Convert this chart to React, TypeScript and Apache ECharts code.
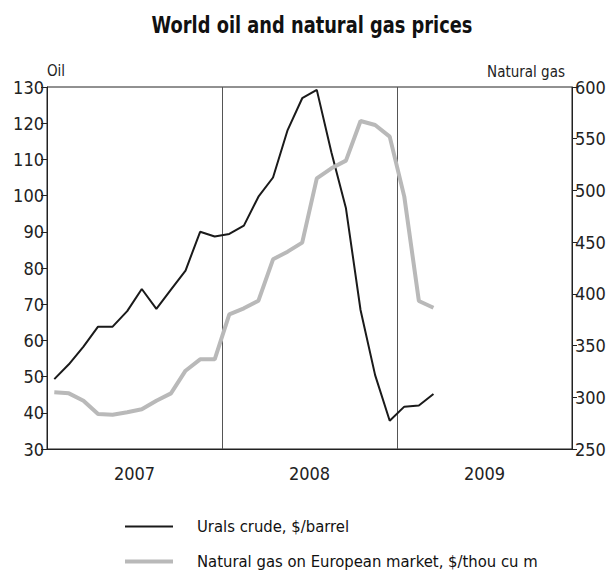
import React, { useEffect, useRef } from "react";
import * as echarts from "echarts";

const months: string[] = [];
for (const y of ["2007", "2008", "2009"]) {
  for (const m of ["01", "02", "03", "04", "05", "06", "07", "08", "09", "10", "11", "12"]) {
    months.push(`${y}-${m}`);
  }
}
const years = ["2007", "2008", "2009"];

const titleText = "World oil and natural gas prices";
const oilName = "Urals crude, $/barrel";
const gasName = "Natural gas on European market, $/thou cu m";

const oilPrices = [
  49.3, 53.4, 58.3, 63.8, 63.8, 68.1, 74.2, 68.7, 74.0, 79.3, 90.0, 88.7,
  89.4, 91.7, 99.7, 105.0, 118.1, 126.9, 129.2, 112.0, 96.5, 68.4, 50.4, 37.8,
  41.7, 42.0, 45.2,
];
const gasPrices = [
  304.8, 303.8, 296.7, 283.8, 283.2, 285.5, 288.4, 296.7, 303.8, 325.7, 336.7, 336.7,
  380.2, 386.0, 393.4, 433.4, 440.8, 449.5, 511.7, 521.4, 528.8, 567.1, 563.3, 552.0,
  494.0, 393.1, 386.6,
];

const FONT = "'Liberation Sans Narrow', 'DejaVu Sans Condensed', 'Liberation Sans', sans-serif";

export default function App() {
  const ref = useRef<HTMLDivElement>(null);
  useEffect(() => {
    if (!ref.current) return;
    const chart = echarts.init(ref.current, undefined, { renderer: "svg" });
    chart.setOption({
      animation: false,
      backgroundColor: "#ffffff",
      graphic: [
        {
          type: "text",
          x: 312,
          y: 14,
          scaleX: 0.775,
          style: {
            text: titleText,
            font: "bold 23px 'DejaVu Sans', sans-serif",
            fill: "#111",
            textAlign: "center",
            textVerticalAlign: "top",
          },
        },
      ],
      legend: [
        {
          data: [oilName],
          left: 120,
          top: 513,
          icon: "rect",
          itemWidth: 48,
          itemHeight: 2,
          textStyle: { fontFamily: FONT, fontSize: 16.5, color: "#111", padding: [0, 0, 0, 19] },
        },
        {
          data: [gasName],
          left: 120,
          top: 548,
          icon: "rect",
          itemWidth: 48,
          itemHeight: 4,
          textStyle: { fontFamily: FONT, fontSize: 16.5, color: "#111", padding: [0, 0, 0, 19] },
        },
      ],
      grid: {
        left: 47,
        right: 39,
        top: 87,
        bottom: 125,
        show: true,
        borderColor: "#222",
        borderWidth: 1,
      },
      xAxis: [
        {
          type: "category",
          data: months,
          boundaryGap: true,
          axisLine: { show: false },
          axisTick: { show: false },
          axisLabel: { show: false },
          splitLine: { show: false },
        },
        {
          type: "category",
          data: years,
          position: "bottom",
          boundaryGap: true,
          axisLine: { show: true, lineStyle: { color: "#222" } },
          axisTick: { show: false },
          axisLabel: { fontFamily: FONT, fontSize: 18, color: "#222", margin: 15 },
          splitLine: { show: true, lineStyle: { color: "#555", width: 1 } },
        },
      ],
      yAxis: [
        {
          type: "value",
          min: 30,
          max: 130,
          interval: 10,
          position: "left",
          name: "Oil",
          nameLocation: "end",
          nameGap: 8,
          nameTextStyle: { fontFamily: FONT, fontSize: 15, color: "#222", align: "left" },
          axisLine: { show: true, lineStyle: { color: "#222" } },
          axisTick: { show: true, length: 6, lineStyle: { color: "#222" } },
          axisLabel: { fontFamily: FONT, fontSize: 18, color: "#222", margin: 3 },
          splitLine: { show: false },
        },
        {
          type: "value",
          min: 250,
          max: 600,
          interval: 50,
          position: "right",
          name: "Natural gas",
          nameLocation: "end",
          nameGap: 8,
          nameTextStyle: { fontFamily: FONT, fontSize: 15, color: "#222", align: "right", padding: [0, 7, 0, 0] },
          axisLine: { show: true, lineStyle: { color: "#222" } },
          axisTick: { show: true, length: 5, lineStyle: { color: "#222" } },
          axisLabel: { fontFamily: FONT, fontSize: 18, color: "#222", margin: 3 },
          splitLine: { show: false },
        },
      ],
      series: [
        {
          name: oilName,
          type: "line",
          xAxisIndex: 0,
          yAxisIndex: 0,
          data: oilPrices,
          symbol: "none",
          itemStyle: { color: "#1a1a1a" },
          lineStyle: { color: "#1a1a1a", width: 2 },
        },
        {
          name: gasName,
          type: "line",
          xAxisIndex: 0,
          yAxisIndex: 1,
          data: gasPrices,
          symbol: "none",
          itemStyle: { color: "#b9b9b9" },
          lineStyle: { color: "#b9b9b9", width: 4 },
        },
      ],
    });
    return () => chart.dispose();
  }, []);
  return <div ref={ref} style={{ width: 611, height: 574, position: "absolute", left: 0, top: 0 }} />;
}
